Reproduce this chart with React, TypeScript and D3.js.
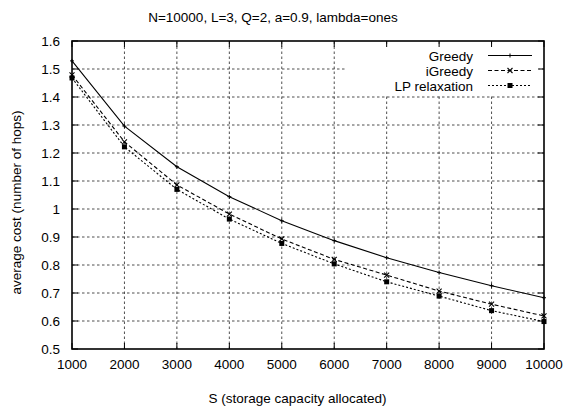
import React from "react";
import * as d3 from "d3";

const xValues = [1000, 2000, 3000, 4000, 5000, 6000, 7000, 8000, 9000, 10000];
const greedy = [1.529, 1.296, 1.151, 1.044, 0.958, 0.887, 0.826, 0.773, 0.726, 0.683];
const iGreedy = [1.479, 1.24, 1.086, 0.982, 0.893, 0.82, 0.764, 0.707, 0.66, 0.618];
const lpRelax = [1.468, 1.222, 1.07, 0.964, 0.877, 0.804, 0.74, 0.689, 0.637, 0.598];
const yTicks = [0.5, 0.6, 0.7, 0.8, 0.9, 1, 1.1, 1.2, 1.3, 1.4, 1.5, 1.6];
const seriesNames = ["Greedy", "iGreedy", "LP relaxation"];
const title = "N=10000, L=3, Q=2, a=0.9, lambda=ones";
const xLabel = "S (storage capacity allocated)";
const yLabel = "average cost (number of hops)";

const W = 570, H = 408;
const L = 72, R = 544, T = 41, B = 349;
const FONT = "'Liberation Sans', Arial, Helvetica, sans-serif";

export default function App() {
  const x = d3.scaleLinear().domain([1000, 10000]).range([L, R]);
  const y = d3.scaleLinear().domain([0.5, 1.6]).range([B, T]);
  const line = d3.line<[number, number]>().x(d => x(d[0])).y(d => y(d[1]));
  const series = [
    { name: seriesNames[0], values: greedy, dash: undefined as string | undefined, marker: "plus" },
    { name: seriesNames[1], values: iGreedy, dash: "4,2.5", marker: "cross" },
    { name: seriesNames[2], values: lpRelax, dash: "2,2", marker: "square" },
  ];
  const legX1 = 488, legX2 = 532, legTextX = 473;
  const legY = [55.5, 70.5, 85.5];

  const marker = (kind: string, cx: number, cy: number, key: string) => {
    if (kind === "plus") {
      return (
        <g key={key} stroke="#000" strokeWidth={1}>
          <line x1={cx - 2} x2={cx + 2} y1={cy} y2={cy} />
          <line x1={cx} x2={cx} y1={cy - 2} y2={cy + 2} />
        </g>
      );
    }
    if (kind === "cross") {
      return (
        <g key={key} stroke="#000" strokeWidth={1.1}>
          <line x1={cx - 2.5} x2={cx + 2.5} y1={cy - 2.5} y2={cy + 2.5} />
          <line x1={cx - 2.5} x2={cx + 2.5} y1={cy + 2.5} y2={cy - 2.5} />
        </g>
      );
    }
    return <rect key={key} x={cx - 2.5} y={cy - 2.5} width={5} height={5} fill="#000" />;
  };

  return (
    <svg width={W} height={H} style={{ position: "absolute", left: 0, top: 0, background: "#fff" }}
      fontFamily={FONT} fontSize={13.5}>
      <rect x={0} y={0} width={W} height={H} fill="#fff" />
      {/* grid */}
      <g stroke="#222" strokeWidth={0.8} strokeDasharray="2.5,2.5">
        {yTicks.slice(1, -1).map(t => (
          <line key={"gy" + t} x1={L} x2={R} y1={y(t)} y2={y(t)} />
        ))}
        {xValues.slice(1, -1).map(t => (
          <line key={"gx" + t} x1={x(t)} x2={x(t)} y1={B} y2={T} />
        ))}
      </g>
      {/* legend background */}
      <rect x={347} y={46} width={192} height={48} fill="#fff" />
      {/* ticks */}
      <g stroke="#000" strokeWidth={1}>
        {yTicks.map(t => (
          <g key={"ty" + t}>
            <line x1={L} x2={L + 6} y1={y(t)} y2={y(t)} />
            <line x1={R} x2={R - 6} y1={y(t)} y2={y(t)} />
          </g>
        ))}
        {xValues.map(t => (
          <g key={"tx" + t}>
            <line x1={x(t)} x2={x(t)} y1={B} y2={B - 6} />
            <line x1={x(t)} x2={x(t)} y1={T} y2={T + 6} />
          </g>
        ))}
      </g>
      {/* series */}
      {series.map(s => (
        <g key={s.name}>
          <path d={line(xValues.map((v, i) => [v, s.values[i]] as [number, number])) || ""}
            fill="none" stroke="#000" strokeWidth={1.1} strokeDasharray={s.dash} />
          {xValues.map((v, i) => marker(s.marker, x(v), y(s.values[i]), s.name + i))}
        </g>
      ))}
      {/* legend */}
      {series.map((s, i) => (
        <g key={"leg" + s.name}>
          <text x={legTextX} y={legY[i] + 5} textAnchor="end" fill="#000">{s.name}</text>
          <line x1={legX1} x2={legX2} y1={legY[i]} y2={legY[i]} stroke="#000" strokeWidth={1.1}
            strokeDasharray={s.dash} />
          {marker(s.marker, (legX1 + legX2) / 2, legY[i], "lm" + i)}
        </g>
      ))}
      {/* border */}
      <rect x={L} y={T} width={R - L} height={B - T} fill="none" stroke="#000" strokeWidth={1.6} />
      {/* tick labels */}
      {yTicks.map(t => (
        <text key={"ly" + t} x={60} y={y(t) + 5} textAnchor="end" fill="#000">{String(t)}</text>
      ))}
      {xValues.map(t => (
        <text key={"lx" + t} x={x(t)} y={369} textAnchor="middle" fill="#000">{String(t)}</text>
      ))}
      <text x={273} y={22} textAnchor="middle" fill="#000">{title}</text>
      <text x={297.5} y={403} textAnchor="middle" fill="#000">{xLabel}</text>
      <text transform={`translate(21,202.5) rotate(-90)`} textAnchor="middle" fill="#000">{yLabel}</text>
    </svg>
  );
}
